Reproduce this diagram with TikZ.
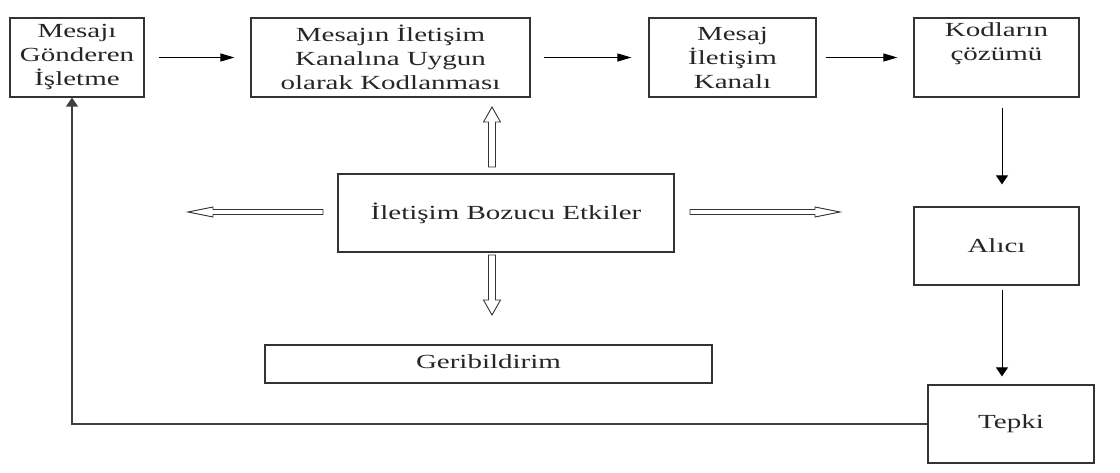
\documentclass[tikz,border=0pt]{standalone}
\usepackage{fontspec}
\setmainfont[FakeStretch=1.45]{Liberation Serif}
\usetikzlibrary{arrows.meta}

\begin{document}
\begin{tikzpicture}[x=1pt, y=-1pt, align=center,
    box/.style={draw=black!80, line width=1.2pt, inner sep=0pt, text=black!85,
        font=\fontsize{20}{24}\selectfont},
    harrow/.style={-{Triangle[length=14pt,width=8pt]}, line width=1pt},
    varrow/.style={-{Triangle[length=9pt,width=12pt]}, line width=1pt},
    hollow/.style={draw=black!80, line width=0.9pt, fill=white}]
    \useasboundingbox (0,0) rectangle (1120,472);

    % top row
    \node(send)    [box, minimum width=134pt, minimum height=79pt] at (77,57.5)    {Mesajı\\Gönderen\\İşletme};
    \node(code)    [box, minimum width=279pt, minimum height=79pt] at (390.5,57.5) {Mesajın İletişim\\Kanalına Uygun\\olarak Kodlanması};
    \node(channel) [box, minimum width=167pt, minimum height=79pt] at (732.5,57.5) {Mesaj\\İletişim\\Kanalı};
    \node(decode)  [box, minimum width=165pt, minimum height=79pt] at (996.5,57.5) {Kodların\\çözümü\\\strut};

    % middle
    \node(noise)    [box, minimum width=336pt, minimum height=78pt] at (506,213)    {İletişim Bozucu Etkiler};
    \node(recv)     [box, minimum width=165pt, minimum height=78pt] at (996.5,246)  {Alıcı};
    \node(feedback) [box, minimum width=447pt, minimum height=38pt] at (488.5,364)  {\raisebox{5pt}{Geribildirim}};
    \node(react)    [box, minimum width=166pt, minimum height=78pt] at (1011,424)   {Tepki};

    %%%%% Edges %%%%%
    \draw[harrow, shorten <=14pt, shorten >=16pt](send) -- (code);
    \draw[harrow, shorten <=13pt, shorten >=17pt](code) -- (channel);
    \draw[harrow, shorten <=9pt, shorten >=16pt](channel) -- (decode);

    \draw[varrow, shorten <=10pt, shorten >=22pt]([xshift=5.5pt]decode.south) -- ([xshift=5.5pt]recv.north);
    \draw[varrow, shorten <=4pt, shorten >=8pt]([xshift=5.5pt]recv.south) -- ([xshift=5.5pt]recv.south |- react.north);

    % feedback loop
    \draw[varrow, draw=black!75, line width=1.3pt](react.west) -| ([xshift=-5pt]send.south);

    % hollow arrows round the noise box
    \draw[hollow] (488.5,167) -- (488.5,122) -- (483.5,122) -- (492,107) -- (500.5,122) -- (495.5,122) -- (495.5,167) -- cycle;
    \draw[hollow] (488.5,255) -- (488.5,300) -- (483.5,300) -- (492,315) -- (500.5,300) -- (495.5,300) -- (495.5,255) -- cycle;
    \draw[hollow] (323,209.5) -- (213,209.5) -- (213,207) -- (188,212) -- (213,217) -- (213,214.5) -- (323,214.5) -- cycle;
    \draw[hollow] (690,209.5) -- (815,209.5) -- (815,207) -- (840,212) -- (815,217) -- (815,214.5) -- (690,214.5) -- cycle;

\end{tikzpicture}
\end{document}
